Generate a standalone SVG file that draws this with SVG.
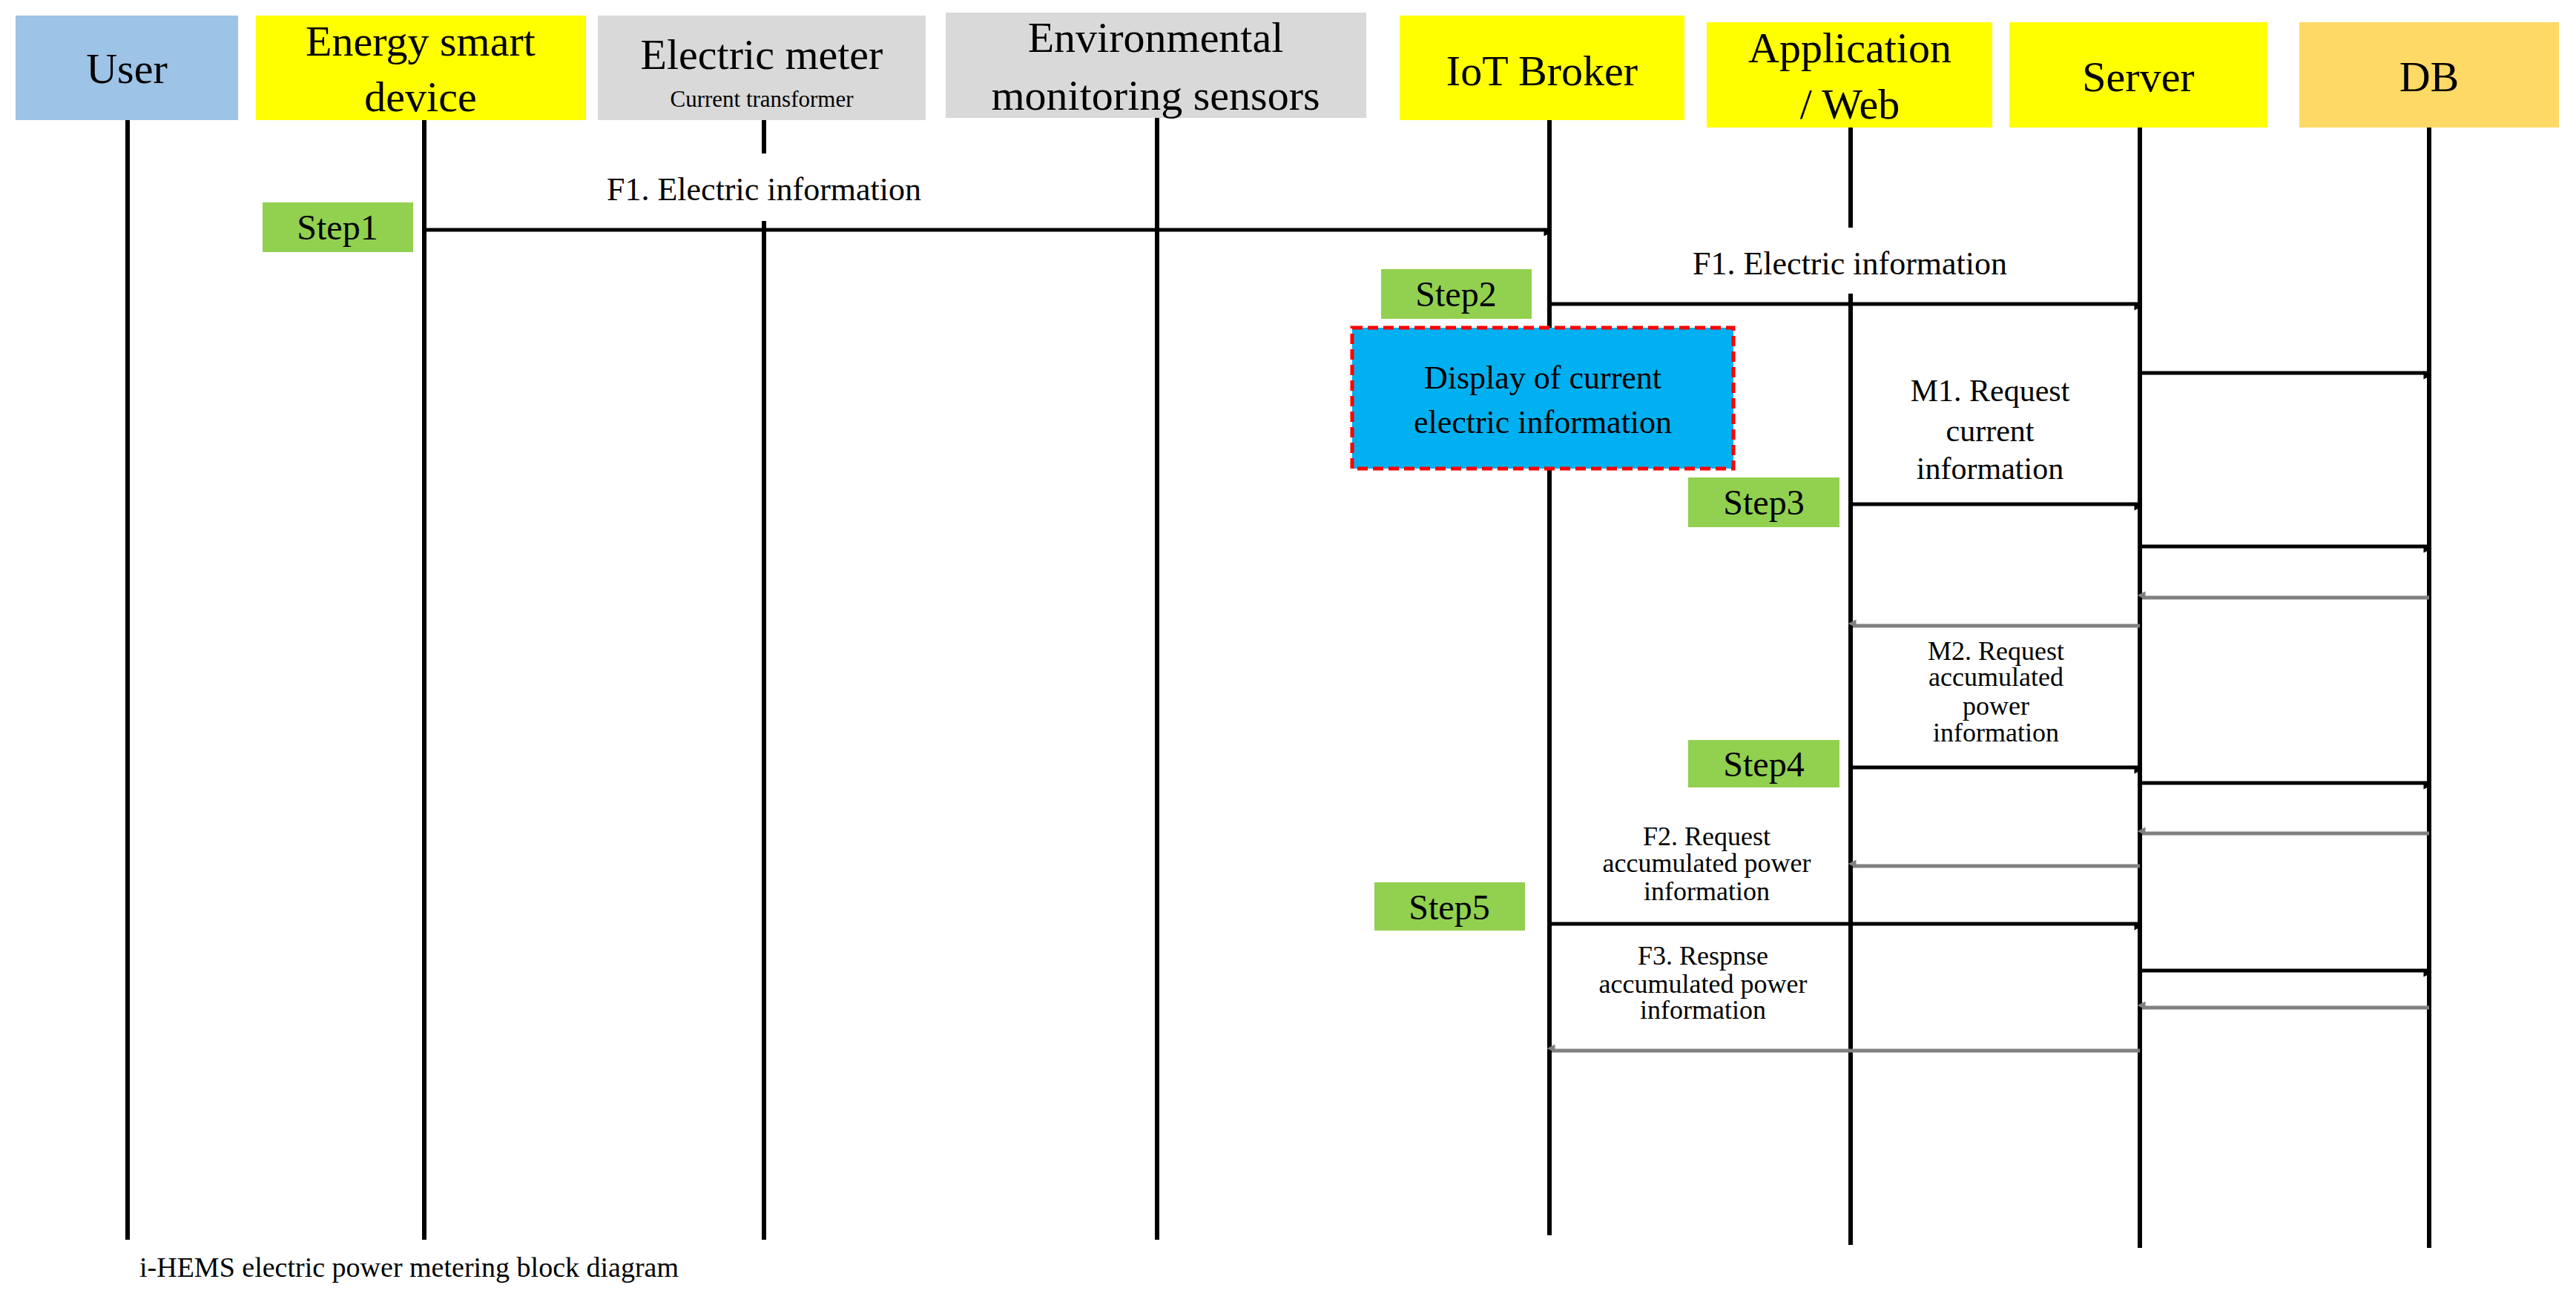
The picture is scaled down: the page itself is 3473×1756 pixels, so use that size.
<svg xmlns="http://www.w3.org/2000/svg" width="3473" height="1756" viewBox="0 0 3473 1756">
<style>
text{font-family:"Liberation Serif","Times New Roman",serif;fill:#000;text-anchor:middle}
.h{font-size:58px}
.lf{stroke:#000;stroke-width:6;fill:none}
.ab{stroke:#000;stroke-width:5;fill:none;marker-end:url(#ah)}
.ag{stroke:#808080;stroke-width:5;fill:none;marker-end:url(#ag)}
.st{fill:#92D050}
.sl{font-size:48px}
.ml{font-size:42px}
.sm{font-size:36px}
</style>
<defs>
<marker id="ah" viewBox="0 0 10 10" refX="9" refY="5" markerWidth="5" markerHeight="5" orient="auto" markerUnits="userSpaceOnUse" style="overflow:visible"><path d="M0,0 L10,5 L0,10 z" fill="#000" transform="scale(2.2)"/></marker>
<marker id="ag" viewBox="0 0 10 10" refX="9" refY="5" markerWidth="5" markerHeight="5" orient="auto" markerUnits="userSpaceOnUse" style="overflow:visible"><path d="M0,0 L10,5 L0,10 z" fill="#808080" transform="scale(2.2)"/></marker>
</defs>
<rect width="3473" height="1756" fill="#fff"/>
<g id="user"><rect x="21" y="21" width="300" height="141" fill="#9DC3E6"/><text class="h" x="171" y="112">User</text></g>
<g id="energy"><rect x="345" y="21" width="445" height="141" fill="#FFFF00"/><text class="h" x="567" y="75">Energy smart</text><text class="h" x="567" y="150">device</text></g>
<g id="meter"><rect x="806" y="21" width="442" height="141" fill="#D9D9D9"/><text class="h" x="1027" y="93">Electric meter</text><text x="1027" y="144" font-size="31">Current transformer</text></g>
<g id="env"><rect x="1275" y="17" width="567" height="142" fill="#D9D9D9"/><text class="h" x="1558" y="70">Environmental</text><text class="h" x="1558" y="148">monitoring sensors</text></g>
<g id="iot"><rect x="1887" y="21" width="384" height="141" fill="#FFFF00"/><text class="h" x="2079" y="115">IoT Broker</text></g>
<g id="app"><rect x="2301" y="30" width="385" height="142" fill="#FFFF00"/><text class="h" x="2494" y="84">Application</text><text class="h" x="2494" y="160">/ Web</text></g>
<g id="server"><rect x="2709" y="30" width="348" height="142" fill="#FFFF00"/><text class="h" x="2883" y="123">Server</text></g>
<g id="db"><rect x="3100" y="30" width="350" height="142" fill="#FFD966"/><text class="h" x="3275" y="123">DB</text></g>
<g id="lifelines">
<line class="lf" x1="172" y1="162" x2="172" y2="1672"/>
<line class="lf" x1="572" y1="162" x2="572" y2="1672"/>
<line class="lf" x1="1030" y1="162" x2="1030" y2="207"/>
<line class="lf" x1="1030" y1="298" x2="1030" y2="1672"/>
<line class="lf" x1="1560" y1="159" x2="1560" y2="1672"/>
<line class="lf" x1="2089" y1="162" x2="2089" y2="1666"/>
<line class="lf" x1="2495" y1="172" x2="2495" y2="307"/>
<line class="lf" x1="2495" y1="396" x2="2495" y2="1679"/>
<line class="lf" x1="2885" y1="172" x2="2885" y2="1683"/>
<line class="lf" x1="3275" y1="172" x2="3275" y2="1683"/>
</g>
<g id="step1"><rect class="st" x="354" y="273" width="203" height="67"/><text class="sl" x="455" y="323">Step1</text></g>
<g id="step2"><rect class="st" x="1862" y="363" width="203" height="67"/><text class="sl" x="1963" y="413">Step2</text></g>
<g id="step3"><rect class="st" x="2276" y="644" width="204" height="67"/><text class="sl" x="2378" y="694">Step3</text></g>
<g id="step4"><rect class="st" x="2276" y="998" width="204" height="64"/><text class="sl" x="2378" y="1047">Step4</text></g>
<g id="step5"><rect class="st" x="1853" y="1190" width="203" height="65"/><text class="sl" x="1954" y="1240">Step5</text></g>
<g id="display"><rect x="1823" y="442" width="514" height="190" fill="#00B0F0" stroke="#FF0000" stroke-width="5" stroke-dasharray="14,7"/><text x="2080" y="524" font-size="44">Display of current</text><text x="2080" y="584" font-size="44">electric information</text></g>
<g id="connectors">
<line class="ab" x1="572" y1="310" x2="2086" y2="310"/>
<line class="ab" x1="2089" y1="410" x2="2882" y2="410"/>
<line class="ab" x1="2885" y1="503" x2="3272" y2="503"/>
<line class="ab" x1="2495" y1="680" x2="2882" y2="680"/>
<line class="ab" x1="2885" y1="737" x2="3272" y2="737"/>
<line class="ag" x1="3275" y1="806" x2="2888" y2="806"/>
<line class="ag" x1="2885" y1="844" x2="2498" y2="844"/>
<line class="ab" x1="2495" y1="1035" x2="2882" y2="1035"/>
<line class="ab" x1="2885" y1="1056" x2="3272" y2="1056"/>
<line class="ag" x1="3275" y1="1124" x2="2888" y2="1124"/>
<line class="ag" x1="2885" y1="1168" x2="2498" y2="1168"/>
<line class="ab" x1="2089" y1="1246" x2="2882" y2="1246"/>
<line class="ab" x1="2885" y1="1309" x2="3272" y2="1309"/>
<line class="ag" x1="3275" y1="1359" x2="2888" y2="1359"/>
<line class="ag" x1="2885" y1="1417" x2="2092" y2="1417"/>
</g>
<g id="labels">
<rect x="770" y="225" width="520" height="60" fill="#fff"/>
<text x="1030" y="270" font-size="44">F1. Electric information</text>
<rect x="2240" y="325" width="510" height="58" fill="#fff"/>
<text x="2494" y="370" font-size="44">F1. Electric information</text>
<text class="ml" x="2683" y="541">M1. Request</text>
<text class="ml" x="2683" y="595">current</text>
<text class="ml" x="2683" y="646">information</text>
<text class="sm" x="2691" y="890" font-size="40">M2. Request</text>
<text class="sm" x="2691" y="925">accumulated</text>
<text class="sm" x="2691" y="964">power</text>
<text class="sm" x="2691" y="1000">information</text>
<text class="sm" x="2301" y="1140">F2. Request</text>
<text class="sm" x="2301" y="1176">accumulated power</text>
<text class="sm" x="2301" y="1214">information</text>
<text class="sm" x="2296" y="1301">F3. Respnse</text>
<text class="sm" x="2296" y="1339">accumulated power</text>
<text class="sm" x="2296" y="1374">information</text>
</g>
<text x="188" y="1722" font-size="38" style="text-anchor:start">i-HEMS electric power metering block diagram</text>
</svg>
